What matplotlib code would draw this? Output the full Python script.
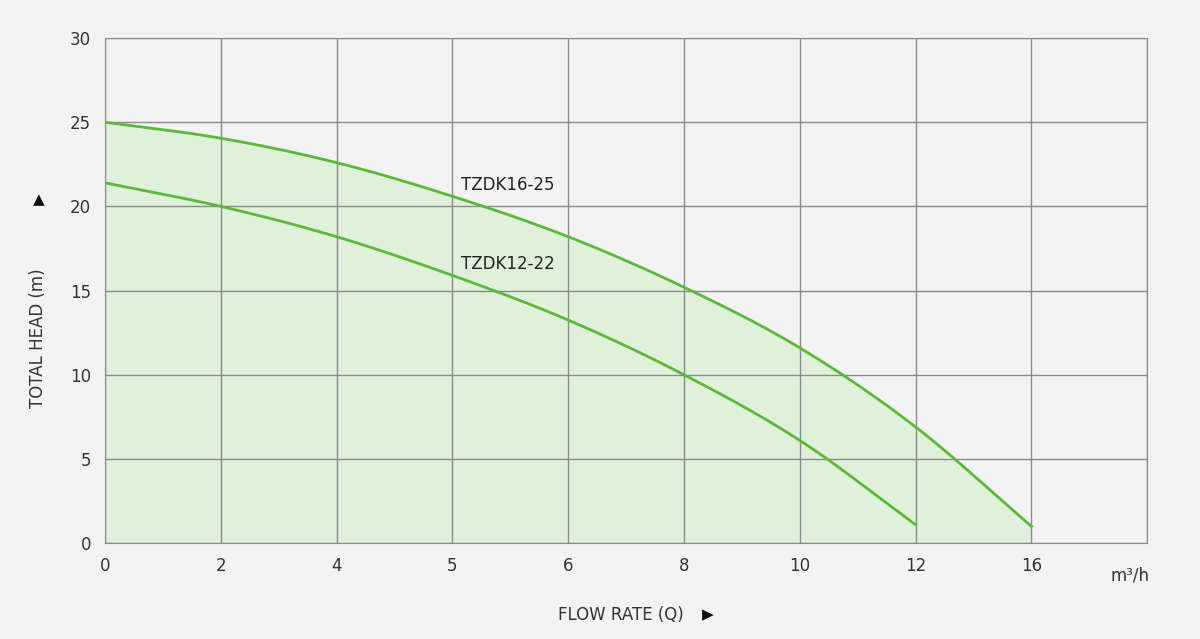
import numpy as np
import matplotlib
matplotlib.use("Agg")
import matplotlib.pyplot as plt

# x tick labels sit at evenly spaced positions
x_labels = ["0", "2", "4", "5", "6", "8", "10", "12", "16"]
head_16_25 = [25.0, 24.05, 22.6, 20.6, 18.2, 15.2, 11.6, 6.9, 1.0]
head_12_22 = [21.4, 20.0, 18.2, 15.9, 13.25, 10.0, 6.1, 1.1]

GREEN = "#5cb83a"
FILL = "#dff1da"
BG = "#f3f3f3"


def smooth(y, n=30):
    """Catmull-Rom through the read points (drawing only)."""
    y = np.asarray(y, float)
    p = np.concatenate([[2 * y[0] - y[1]], y, [2 * y[-1] - y[-2]]])
    xs, ys = [], []
    for i in range(len(y) - 1):
        t = np.linspace(0, 1, n, endpoint=False)
        p0, p1, p2, p3 = p[i], p[i + 1], p[i + 2], p[i + 3]
        v = 0.5 * ((2 * p1) + (-p0 + p2) * t + (2 * p0 - 5 * p1 + 4 * p2 - p3) * t ** 2
                   + (-p0 + 3 * p1 - 3 * p2 + p3) * t ** 3)
        xs.append(i + t); ys.append(v)
    xs.append([len(y) - 1]); ys.append([y[-1]])
    return np.concatenate(xs), np.concatenate(ys)


fig = plt.figure(figsize=(12, 6.39), dpi=100, facecolor=BG)
ax = fig.add_axes([0.0875, 0.150, 0.8685, 0.7905], facecolor=BG)

x1, y1 = smooth(head_16_25)
x2, y2 = smooth(head_12_22)
ax.fill_between(x1, 0, y1, color=FILL, zorder=1)
ax.plot(x1, y1, color=GREEN, lw=2, zorder=3)
ax.plot(x2, y2, color=GREEN, lw=2, zorder=3)

ax.set_xlim(0, 9)
ax.set_ylim(0, 30)
ax.set_xticks(range(10))
ax.set_xticklabels(x_labels + [""])
ax.set_yticks(range(0, 31, 5))
ax.grid(True, color="#8a8a8a", lw=1, zorder=2)
ax.set_axisbelow(False)
for s in ax.spines.values():
    s.set_color("#8a8a8a")
ax.tick_params(length=0, labelsize=12, colors="#333333", pad=10)
ax.text(8.85, -1.4, "m³/h", ha="center", va="top", fontsize=12, color="#333333")

ax.text(3.07, 21.0, "TZDK16-25", fontsize=12, color="#222222")
ax.text(3.07, 16.3, "TZDK12-22", fontsize=12, color="#222222")

fig.text(0.032, 0.47, "TOTAL HEAD (m)", rotation=90, ha="center", va="center",
         fontsize=12, color="#333333")
fig.text(0.032, 0.688, "▲", ha="center", va="center", fontsize=11, color="#111111")
fig.text(0.517, 0.038, "FLOW RATE (Q)", ha="center", va="center", fontsize=12, color="#333333")
fig.text(0.59, 0.038, "▶", ha="center", va="center", fontsize=11, color="#111111")

fig.savefig("out.png", dpi=100, facecolor=BG)
